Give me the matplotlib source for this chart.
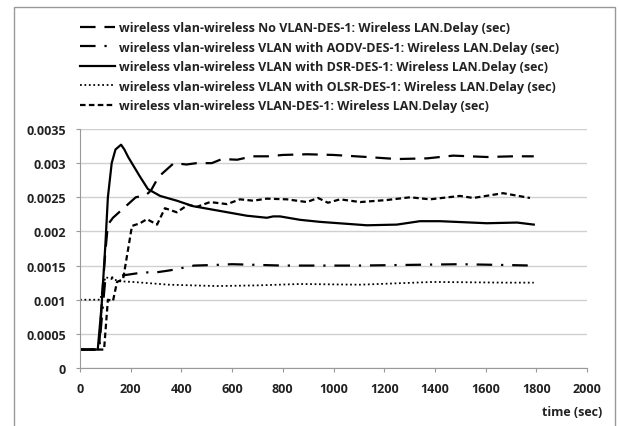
import matplotlib.pyplot as plt
from matplotlib.patches import Rectangle

# time (sec) and delay (sec)
no_vlan_t = [0, 75, 90, 100, 110, 130, 160, 190, 220, 260, 280, 310, 340, 370, 420, 460, 520, 560,
             620, 680, 740, 800, 895, 1000, 1132, 1250, 1369, 1472, 1605, 1708, 1790]
no_vlan_d = [0.00027, 0.00027, 0.0012, 0.0017, 0.0021, 0.0022, 0.0023, 0.0024, 0.0025, 0.00253, 0.0026,
             0.0028, 0.0029, 0.0030, 0.00298, 0.0030, 0.0030, 0.00306, 0.00305, 0.0031, 0.0031, 0.00312,
             0.00313, 0.00312, 0.00309, 0.00306, 0.00307, 0.00311, 0.00309, 0.0031, 0.0031]

aodv_t = [0, 75, 90, 100, 158, 250, 300, 355, 450, 540, 600, 800, 1000, 1100, 1300, 1500, 1650, 1790]
aodv_d = [0.00027, 0.00027, 0.0009, 0.0013, 0.00135, 0.0014, 0.0014, 0.00143, 0.0015, 0.00151, 0.00152,
          0.0015, 0.0015, 0.0015, 0.00151, 0.00152, 0.00151, 0.0015]

dsr_t = [0, 70, 85, 100, 110, 125, 140, 162, 175, 190, 237, 268, 316, 382, 446, 552, 658, 737, 762,
         789, 868, 947, 1132, 1250, 1341, 1420, 1605, 1724, 1790]
dsr_d = [0.00027, 0.00027, 0.0009, 0.0018, 0.0025, 0.0030, 0.0032, 0.00327, 0.0032, 0.00309, 0.0028,
         0.00262, 0.00252, 0.00245, 0.00237, 0.0023, 0.00223, 0.0022, 0.00222, 0.00222, 0.00217, 0.00214,
         0.00209, 0.0021, 0.00215, 0.00215, 0.00212, 0.00213, 0.0021]

olsr_t = [0, 80, 100, 158, 209, 350, 540, 700, 868, 1105, 1393, 1684, 1790]
olsr_d = [0.001, 0.001, 0.00133, 0.00127, 0.00126, 0.00122, 0.0012, 0.00121, 0.00123, 0.00122, 0.00126,
          0.00125, 0.00125]

vlan_t = [0, 95, 110, 130, 146, 170, 205, 237, 264, 304, 335, 382, 426, 461, 513, 580, 631, 683, 737,
          816, 895, 939, 978, 1026, 1105, 1211, 1302, 1381, 1499, 1551, 1669, 1775]
vlan_d = [0.00027, 0.00027, 0.001, 0.00098, 0.00126, 0.0013, 0.00208, 0.00212, 0.00218, 0.0021, 0.00234,
          0.00228, 0.00239, 0.00236, 0.00243, 0.0024, 0.00247, 0.00245, 0.00248, 0.00247, 0.00243, 0.00249,
          0.00242, 0.00247, 0.00243, 0.00246, 0.0025, 0.00247, 0.00252, 0.00249, 0.00256, 0.00249]

labels = [
    "wireless vlan-wireless No VLAN-DES-1: Wireless LAN.Delay (sec)",
    "wireless vlan-wireless VLAN with AODV-DES-1: Wireless LAN.Delay (sec)",
    "wireless vlan-wireless VLAN with DSR-DES-1: Wireless LAN.Delay (sec)",
    "wireless vlan-wireless VLAN with OLSR-DES-1: Wireless LAN.Delay (sec)",
    "wireless vlan-wireless VLAN-DES-1: Wireless LAN.Delay (sec)",
]
y_ticks = [0, 0.0005, 0.001, 0.0015, 0.002, 0.0025, 0.003, 0.0035]
y_tick_labels = ["0", "0.0005", "0.001", "0.0015", "0.002", "0.0025", "0.003", "0.0035"]

plt.rcParams['font.family'] = ['Open Sans', 'DejaVu Sans']
plt.rcParams['font.weight'] = 'bold'

fig = plt.figure(figsize=(6.19, 4.27), dpi=100)
ax = fig.add_axes([80 / 619, 1 - 369 / 427, 507 / 619, 239 / 427])

lw = 1.6
ax.plot(no_vlan_t, no_vlan_d, color='black', lw=lw, dashes=(7, 4), label=labels[0])
ax.plot(aodv_t, aodv_d, color='black', lw=lw, dashes=(7, 4, 1, 4), label=labels[1])
ax.plot(dsr_t, dsr_d, color='black', lw=lw, label=labels[2])
ax.plot(olsr_t, olsr_d, color='black', lw=lw * 0.8, dashes=(1, 1.5), label=labels[3])
ax.plot(vlan_t, vlan_d, color='black', lw=lw, dashes=(2.5, 1.5), label=labels[4])

ax.set_xlim(0, 2000)
ax.set_ylim(0, 0.0035)
ax.set_xticks(range(0, 2001, 200))
ax.set_yticks(y_ticks)
ax.set_yticklabels(y_tick_labels)
ax.tick_params(labelsize=9, length=3, color='#999999', pad=7, labelcolor='#222222')
ax.yaxis.grid(True, color='#d0d0d0', lw=1)
ax.set_axisbelow(True)
for side in ['top', 'right']:
    ax.spines[side].set_visible(False)
for side in ['left', 'bottom']:
    ax.spines[side].set_color('#999999')

fig.text(602 / 619, 1 - 413 / 427, "time (sec)", ha='right', va='center', fontsize=9,
         fontweight='bold', color='#222222')

fig.legend(loc='upper left', bbox_to_anchor=(69 / 619, 1 - 11 / 427), frameon=False,
           fontsize=9.0, handlelength=2.8, handletextpad=0.3, labelspacing=0.52,
           labelcolor='#222222')

fig.patches.append(Rectangle((14 / 619, -0.1), 601 / 619, 1.1 - 8 / 427, transform=fig.transFigure,
                             fill=False, edgecolor='#999999', lw=1))

fig.savefig("out.png", dpi=100)
